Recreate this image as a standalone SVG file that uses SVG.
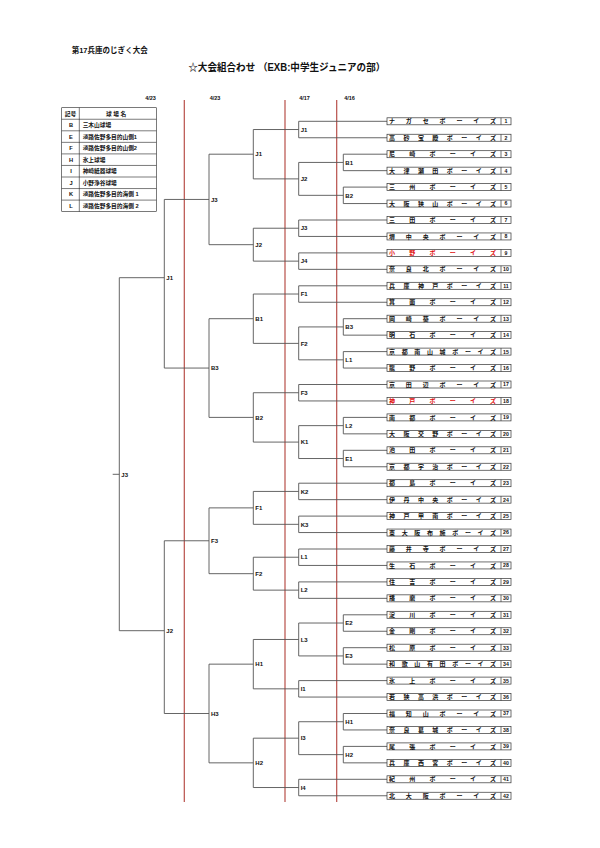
<svg xmlns="http://www.w3.org/2000/svg" width="600" height="848" viewBox="0 0 600 848">
<style>
text{font-family:"Liberation Sans","Noto Sans CJK JP",sans-serif;font-weight:bold;fill:#111}
.ln{stroke:#555;stroke-width:0.9;fill:none}
.rl{stroke:#b8504a;stroke-width:1.2;fill:none}
.bx{fill:#fff;stroke:#333;stroke-width:0.7}
.dv{stroke:#333;stroke-width:0.7}
.tn{font-size:6px}
.red{fill:#e01010}
.no{font-size:5.2px;text-anchor:middle}
.lb{font-size:6px}
.dt{font-size:5.5px;text-anchor:middle}
.tb{fill:none;stroke:#222;stroke-width:0.6}
.tt{font-size:5.7px}
</style>
<rect width="600" height="848" fill="#fff"/>
<g id="titles">
<text x="71.7" y="52.7" font-size="7.5">第17兵庫のじぎく大会</text>
<text x="188.3" y="70.5" font-size="10" textLength="197" lengthAdjust="spacingAndGlyphs">☆大会組合わせ （EXB:中学生ジュニアの部）</text>
</g>
<g id="dates">
<text class="dt" x="150.5" y="100">4/23</text>
<text class="dt" x="215" y="100">4/23</text>
<text class="dt" x="304.5" y="100">4/17</text>
<text class="dt" x="349.5" y="100">4/16</text>
</g>
<g id="legend">
<rect class="tb" x="61.7" y="107.7" width="94.6" height="103.95" stroke-width="0.9"/>
<path class="tb" d="M79.3 107.7V211.65M61.7 119.25H156.3M61.7 130.8H156.3M61.7 142.35H156.3M61.7 153.9H156.3M61.7 165.45H156.3M61.7 177H156.3M61.7 188.55H156.3M61.7 200.1H156.3"/>
<text class="tt" x="70.5" y="115.6" text-anchor="middle">記号</text>
<text class="tt" x="116" y="115.6" text-anchor="middle">球 場 名</text>
<g text-anchor="middle" class="tt">
<text x="71" y="127.1">B</text>
<text x="71" y="138.7">E</text>
<text x="71" y="150.2">F</text>
<text x="71" y="161.8">H</text>
<text x="71" y="173.3">I</text>
<text x="71" y="184.9">J</text>
<text x="71" y="196.4">K</text>
<text x="71" y="208">L</text>
</g>
<text class="tt" x="82.7" y="127.1">三木山球場</text>
<text class="tt" x="82.7" y="138.7">淡路佐野多目的山側1</text>
<text class="tt" x="82.7" y="150.2">淡路佐野多目的山側2</text>
<text class="tt" x="82.7" y="161.8">氷上球場</text>
<text class="tt" x="82.7" y="173.3">神崎紙器球場</text>
<text class="tt" x="82.7" y="184.9">小野浄谷球場</text>
<text class="tt" x="82.7" y="196.4">淡路佐野多目的海側 1</text>
<text class="tt" x="82.7" y="208">淡路佐野多目的海側 2</text>
</g>
<g id="day-lines">
<path class="rl" d="M184.3 100V802M285 100V802M336.7 100V802"/>
</g>
<g id="connectors">
<path class="ln" d="M298.7 121.3H387M298.7 137.75H387M298.7 220H387M298.7 236.45H387M298.7 252.9H387M298.7 269.35H387M298.7 285.8H387M298.7 302.25H387M298.7 384.5H387M298.7 400.95H387M298.7 483.2H387M298.7 499.65H387M298.7 516.1H387M298.7 532.55H387M298.7 549H387M298.7 565.45H387M298.7 581.9H387M298.7 598.35H387M298.7 680.6H387M298.7 697.05H387M298.7 779.3H387M298.7 795.75H387"/>
<path class="ln" d="M343.3 154.2H387M343.3 170.65H387M343.3 187.1H387M343.3 203.55H387M343.3 318.7H387M343.3 335.15H387M343.3 351.6H387M343.3 368.05H387M343.3 417.4H387M343.3 433.85H387M343.3 450.3H387M343.3 466.75H387M343.3 614.8H387M343.3 631.25H387M343.3 647.7H387M343.3 664.15H387M343.3 713.5H387M343.3 729.95H387M343.3 746.4H387M343.3 762.85H387"/>
<path class="ln" d="M343.3 154.2V170.65M343.3 187.1V203.55M343.3 318.7V335.15M343.3 351.6V368.05M343.3 417.4V433.85M343.3 450.3V466.75M343.3 614.8V631.25M343.3 647.7V664.15M343.3 713.5V729.95M343.3 746.4V762.85"/>
<path class="ln" d="M298.7 162.43H343.3M298.7 195.33H343.3M298.7 326.93H343.3M298.7 359.83H343.3M298.7 425.63H343.3M298.7 458.53H343.3M298.7 623.03H343.3M298.7 655.93H343.3M298.7 721.73H343.3M298.7 754.63H343.3"/>
<path class="ln" d="M298.7 121.3V137.75M298.7 162.43V195.33M298.7 220V236.45M298.7 252.9V269.35M298.7 285.8V302.25M298.7 326.93V359.83M298.7 384.5V400.95M298.7 425.63V458.53M298.7 483.2V499.65M298.7 516.1V532.55M298.7 549V565.45M298.7 581.9V598.35M298.7 623.03V655.93M298.7 680.6V697.05M298.7 721.73V754.63M298.7 779.3V795.75"/>
<path class="ln" d="M253.3 129.53H298.7M253.3 178.88H298.7M253.3 228.23H298.7M253.3 261.13H298.7M253.3 294.03H298.7M253.3 343.38H298.7M253.3 392.73H298.7M253.3 442.08H298.7M253.3 491.43H298.7M253.3 524.33H298.7M253.3 557.23H298.7M253.3 590.13H298.7M253.3 639.48H298.7M253.3 688.83H298.7M253.3 738.18H298.7M253.3 787.53H298.7"/>
<path class="ln" d="M253.3 129.53V178.88M253.3 228.23V261.13M253.3 294.03V343.38M253.3 392.73V442.08M253.3 491.43V524.33M253.3 557.23V590.13M253.3 639.48V688.83M253.3 738.18V787.53"/>
<path class="ln" d="M209 154.2H253.3M209 244.68H253.3M209 318.7H253.3M209 417.4H253.3M209 507.88H253.3M209 573.68H253.3M209 664.15H253.3M209 762.85H253.3"/>
<path class="ln" d="M209 154.2V244.68M209 318.7V417.4M209 507.88V573.68M209 664.15V762.85"/>
<path class="ln" d="M164.3 199.44H209M164.3 368.05H209M164.3 540.78H209M164.3 713.5H209"/>
<path class="ln" d="M164.3 199.44V368.05M164.3 540.78V713.5"/>
<path class="ln" d="M119.3 277.7H164.3M119.3 630.7H164.3M119.3 277.7V630.7M112.7 474.3H119.3"/>
</g>
<g id="match-labels" class="lb">
<g id="r1">
<text x="345.3" y="164.6">B1</text>
<text x="345.3" y="197.5">B2</text>
<text x="345.3" y="329.1">B3</text>
<text x="345.3" y="362">L1</text>
<text x="345.3" y="427.8">L2</text>
<text x="345.3" y="460.7">E1</text>
<text x="345.3" y="625.2">E2</text>
<text x="345.3" y="658.1">E3</text>
<text x="345.3" y="723.9">H1</text>
<text x="345.3" y="756.8">H2</text>
</g>
<g id="r2">
<text x="300.7" y="131.7">J1</text>
<text x="300.7" y="181.1">J2</text>
<text x="300.7" y="230.4">J3</text>
<text x="300.7" y="263.3">J4</text>
<text x="300.7" y="296.2">F1</text>
<text x="300.7" y="345.6">F2</text>
<text x="300.7" y="394.9">F3</text>
<text x="300.7" y="444.3">K1</text>
<text x="300.7" y="493.6">K2</text>
<text x="300.7" y="526.5">K3</text>
<text x="300.7" y="559.4">L1</text>
<text x="300.7" y="592.3">L2</text>
<text x="300.7" y="641.7">L3</text>
<text x="300.7" y="691">I1</text>
<text x="300.7" y="740.4">I3</text>
<text x="300.7" y="789.7">I4</text>
</g>
<g id="r3">
<text x="255.3" y="156.4">J1</text>
<text x="255.3" y="246.9">J2</text>
<text x="255.3" y="320.9">B1</text>
<text x="255.3" y="419.6">B2</text>
<text x="255.3" y="510.1">F1</text>
<text x="255.3" y="575.9">F2</text>
<text x="255.3" y="666.4">H1</text>
<text x="255.3" y="765.1">H2</text>
</g>
<g id="r4">
<text x="211" y="201.6">J3</text>
<text x="211" y="370.3">B3</text>
<text x="211" y="543">F3</text>
<text x="211" y="715.7">H3</text>
</g>
<g id="r5">
<text x="166.3" y="279.9">J1</text>
<text x="166.3" y="632.9">J2</text>
</g>
<g id="final">
<text x="121.3" y="476.5">J3</text>
</g>
</g>
<g id="teams">
<g id="team-1"><rect class="bx" x="387" y="117.8" width="124" height="7"/><line class="dv" x1="501" y1="117.8" x2="501" y2="124.8"/><text class="tn" x="389" y="123.4" textLength="107" lengthAdjust="spacing">ナガセボーイズ</text><text class="no" x="506" y="123.2">1</text></g>
<g id="team-2"><rect class="bx" x="387" y="134.25" width="124" height="7"/><line class="dv" x1="501" y1="134.25" x2="501" y2="141.25"/><text class="tn" x="389" y="139.85" textLength="107" lengthAdjust="spacing">高砂宝殿ボーイズ</text><text class="no" x="506" y="139.65">2</text></g>
<g id="team-3"><rect class="bx" x="387" y="150.7" width="124" height="7"/><line class="dv" x1="501" y1="150.7" x2="501" y2="157.7"/><text class="tn" x="389" y="156.3" textLength="107" lengthAdjust="spacing">尼崎ボーイズ</text><text class="no" x="506" y="156.1">3</text></g>
<g id="team-4"><rect class="bx" x="387" y="167.15" width="124" height="7"/><line class="dv" x1="501" y1="167.15" x2="501" y2="174.15"/><text class="tn" x="389" y="172.75" textLength="107" lengthAdjust="spacing">大津瀬田ボーイズ</text><text class="no" x="506" y="172.55">4</text></g>
<g id="team-5"><rect class="bx" x="387" y="183.6" width="124" height="7"/><line class="dv" x1="501" y1="183.6" x2="501" y2="190.6"/><text class="tn" x="389" y="189.2" textLength="107" lengthAdjust="spacing">三州ボーイズ</text><text class="no" x="506" y="189">5</text></g>
<g id="team-6"><rect class="bx" x="387" y="200.05" width="124" height="7"/><line class="dv" x1="501" y1="200.05" x2="501" y2="207.05"/><text class="tn" x="389" y="205.65" textLength="107" lengthAdjust="spacing">大阪狭山ボーイズ</text><text class="no" x="506" y="205.45">6</text></g>
<g id="team-7"><rect class="bx" x="387" y="216.5" width="124" height="7"/><line class="dv" x1="501" y1="216.5" x2="501" y2="223.5"/><text class="tn" x="389" y="222.1" textLength="107" lengthAdjust="spacing">三田ボーイズ</text><text class="no" x="506" y="221.9">7</text></g>
<g id="team-8"><rect class="bx" x="387" y="232.95" width="124" height="7"/><line class="dv" x1="501" y1="232.95" x2="501" y2="239.95"/><text class="tn" x="389" y="238.55" textLength="107" lengthAdjust="spacing">堺中央ボーイズ</text><text class="no" x="506" y="238.35">8</text></g>
<g id="team-9"><rect class="bx" x="387" y="249.4" width="124" height="7"/><line class="dv" x1="501" y1="249.4" x2="501" y2="256.4"/><text class="tn red" x="389" y="255" textLength="107" lengthAdjust="spacing">小野ボーイズ</text><text class="no" x="506" y="254.8">9</text></g>
<g id="team-10"><rect class="bx" x="387" y="265.85" width="124" height="7"/><line class="dv" x1="501" y1="265.85" x2="501" y2="272.85"/><text class="tn" x="389" y="271.45" textLength="107" lengthAdjust="spacing">奈良北ボーイズ</text><text class="no" x="506" y="271.25">10</text></g>
<g id="team-11"><rect class="bx" x="387" y="282.3" width="124" height="7"/><line class="dv" x1="501" y1="282.3" x2="501" y2="289.3"/><text class="tn" x="389" y="287.9" textLength="107" lengthAdjust="spacing">兵庫神戸ボーイズ</text><text class="no" x="506" y="287.7">11</text></g>
<g id="team-12"><rect class="bx" x="387" y="298.75" width="124" height="7"/><line class="dv" x1="501" y1="298.75" x2="501" y2="305.75"/><text class="tn" x="389" y="304.35" textLength="107" lengthAdjust="spacing">箕面ボーイズ</text><text class="no" x="506" y="304.15">12</text></g>
<g id="team-13"><rect class="bx" x="387" y="315.2" width="124" height="7"/><line class="dv" x1="501" y1="315.2" x2="501" y2="322.2"/><text class="tn" x="389" y="320.8" textLength="107" lengthAdjust="spacing">岡崎葵ボーイズ</text><text class="no" x="506" y="320.6">13</text></g>
<g id="team-14"><rect class="bx" x="387" y="331.65" width="124" height="7"/><line class="dv" x1="501" y1="331.65" x2="501" y2="338.65"/><text class="tn" x="389" y="337.25" textLength="107" lengthAdjust="spacing">明石ボーイズ</text><text class="no" x="506" y="337.05">14</text></g>
<g id="team-15"><rect class="bx" x="387" y="348.1" width="124" height="7"/><line class="dv" x1="501" y1="348.1" x2="501" y2="355.1"/><text class="tn" x="389" y="353.7" textLength="107" lengthAdjust="spacing">京都南山城ボーイズ</text><text class="no" x="506" y="353.5">15</text></g>
<g id="team-16"><rect class="bx" x="387" y="364.55" width="124" height="7"/><line class="dv" x1="501" y1="364.55" x2="501" y2="371.55"/><text class="tn" x="389" y="370.15" textLength="107" lengthAdjust="spacing">龍野ボーイズ</text><text class="no" x="506" y="369.95">16</text></g>
<g id="team-17"><rect class="bx" x="387" y="381" width="124" height="7"/><line class="dv" x1="501" y1="381" x2="501" y2="388"/><text class="tn" x="389" y="386.6" textLength="107" lengthAdjust="spacing">京田辺ボーイズ</text><text class="no" x="506" y="386.4">17</text></g>
<g id="team-18"><rect class="bx" x="387" y="397.45" width="124" height="7"/><line class="dv" x1="501" y1="397.45" x2="501" y2="404.45"/><text class="tn red" x="389" y="403.05" textLength="107" lengthAdjust="spacing">神戸ボーイズ</text><text class="no" x="506" y="402.85">18</text></g>
<g id="team-19"><rect class="bx" x="387" y="413.9" width="124" height="7"/><line class="dv" x1="501" y1="413.9" x2="501" y2="420.9"/><text class="tn" x="389" y="419.5" textLength="107" lengthAdjust="spacing">南都ボーイズ</text><text class="no" x="506" y="419.3">19</text></g>
<g id="team-20"><rect class="bx" x="387" y="430.35" width="124" height="7"/><line class="dv" x1="501" y1="430.35" x2="501" y2="437.35"/><text class="tn" x="389" y="435.95" textLength="107" lengthAdjust="spacing">大阪交野ボーイズ</text><text class="no" x="506" y="435.75">20</text></g>
<g id="team-21"><rect class="bx" x="387" y="446.8" width="124" height="7"/><line class="dv" x1="501" y1="446.8" x2="501" y2="453.8"/><text class="tn" x="389" y="452.4" textLength="107" lengthAdjust="spacing">池田ボーイズ</text><text class="no" x="506" y="452.2">21</text></g>
<g id="team-22"><rect class="bx" x="387" y="463.25" width="124" height="7"/><line class="dv" x1="501" y1="463.25" x2="501" y2="470.25"/><text class="tn" x="389" y="468.85" textLength="107" lengthAdjust="spacing">京都宇治ボーイズ</text><text class="no" x="506" y="468.65">22</text></g>
<g id="team-23"><rect class="bx" x="387" y="479.7" width="124" height="7"/><line class="dv" x1="501" y1="479.7" x2="501" y2="486.7"/><text class="tn" x="389" y="485.3" textLength="107" lengthAdjust="spacing">都島ボーイズ</text><text class="no" x="506" y="485.1">23</text></g>
<g id="team-24"><rect class="bx" x="387" y="496.15" width="124" height="7"/><line class="dv" x1="501" y1="496.15" x2="501" y2="503.15"/><text class="tn" x="389" y="501.75" textLength="107" lengthAdjust="spacing">伊丹中央ボーイズ</text><text class="no" x="506" y="501.55">24</text></g>
<g id="team-25"><rect class="bx" x="387" y="512.6" width="124" height="7"/><line class="dv" x1="501" y1="512.6" x2="501" y2="519.6"/><text class="tn" x="389" y="518.2" textLength="107" lengthAdjust="spacing">神戸甲南ボーイズ</text><text class="no" x="506" y="518">25</text></g>
<g id="team-26"><rect class="bx" x="387" y="529.05" width="124" height="7"/><line class="dv" x1="501" y1="529.05" x2="501" y2="536.05"/><text class="tn" x="389" y="534.65" textLength="107" lengthAdjust="spacing">東大阪布施ボーイズ</text><text class="no" x="506" y="534.45">26</text></g>
<g id="team-27"><rect class="bx" x="387" y="545.5" width="124" height="7"/><line class="dv" x1="501" y1="545.5" x2="501" y2="552.5"/><text class="tn" x="389" y="551.1" textLength="107" lengthAdjust="spacing">藤井寺ボーイズ</text><text class="no" x="506" y="550.9">27</text></g>
<g id="team-28"><rect class="bx" x="387" y="561.95" width="124" height="7"/><line class="dv" x1="501" y1="561.95" x2="501" y2="568.95"/><text class="tn" x="389" y="567.55" textLength="107" lengthAdjust="spacing">生石ボーイズ</text><text class="no" x="506" y="567.35">28</text></g>
<g id="team-29"><rect class="bx" x="387" y="578.4" width="124" height="7"/><line class="dv" x1="501" y1="578.4" x2="501" y2="585.4"/><text class="tn" x="389" y="584" textLength="107" lengthAdjust="spacing">住吉ボーイズ</text><text class="no" x="506" y="583.8">29</text></g>
<g id="team-30"><rect class="bx" x="387" y="594.85" width="124" height="7"/><line class="dv" x1="501" y1="594.85" x2="501" y2="601.85"/><text class="tn" x="389" y="600.45" textLength="107" lengthAdjust="spacing">播磨ボーイズ</text><text class="no" x="506" y="600.25">30</text></g>
<g id="team-31"><rect class="bx" x="387" y="611.3" width="124" height="7"/><line class="dv" x1="501" y1="611.3" x2="501" y2="618.3"/><text class="tn" x="389" y="616.9" textLength="107" lengthAdjust="spacing">淀川ボーイズ</text><text class="no" x="506" y="616.7">31</text></g>
<g id="team-32"><rect class="bx" x="387" y="627.75" width="124" height="7"/><line class="dv" x1="501" y1="627.75" x2="501" y2="634.75"/><text class="tn" x="389" y="633.35" textLength="107" lengthAdjust="spacing">金剛ボーイズ</text><text class="no" x="506" y="633.15">32</text></g>
<g id="team-33"><rect class="bx" x="387" y="644.2" width="124" height="7"/><line class="dv" x1="501" y1="644.2" x2="501" y2="651.2"/><text class="tn" x="389" y="649.8" textLength="107" lengthAdjust="spacing">松原ボーイズ</text><text class="no" x="506" y="649.6">33</text></g>
<g id="team-34"><rect class="bx" x="387" y="660.65" width="124" height="7"/><line class="dv" x1="501" y1="660.65" x2="501" y2="667.65"/><text class="tn" x="389" y="666.25" textLength="107" lengthAdjust="spacing">和歌山有田ボーイズ</text><text class="no" x="506" y="666.05">34</text></g>
<g id="team-35"><rect class="bx" x="387" y="677.1" width="124" height="7"/><line class="dv" x1="501" y1="677.1" x2="501" y2="684.1"/><text class="tn" x="389" y="682.7" textLength="107" lengthAdjust="spacing">氷上ボーイズ</text><text class="no" x="506" y="682.5">35</text></g>
<g id="team-36"><rect class="bx" x="387" y="693.55" width="124" height="7"/><line class="dv" x1="501" y1="693.55" x2="501" y2="700.55"/><text class="tn" x="389" y="699.15" textLength="107" lengthAdjust="spacing">若狭高浜ボーイズ</text><text class="no" x="506" y="698.95">36</text></g>
<g id="team-37"><rect class="bx" x="387" y="710" width="124" height="7"/><line class="dv" x1="501" y1="710" x2="501" y2="717"/><text class="tn" x="389" y="715.6" textLength="107" lengthAdjust="spacing">福知山ボーイズ</text><text class="no" x="506" y="715.4">37</text></g>
<g id="team-38"><rect class="bx" x="387" y="726.45" width="124" height="7"/><line class="dv" x1="501" y1="726.45" x2="501" y2="733.45"/><text class="tn" x="389" y="732.05" textLength="107" lengthAdjust="spacing">奈良葛城ボーイズ</text><text class="no" x="506" y="731.85">38</text></g>
<g id="team-39"><rect class="bx" x="387" y="742.9" width="124" height="7"/><line class="dv" x1="501" y1="742.9" x2="501" y2="749.9"/><text class="tn" x="389" y="748.5" textLength="107" lengthAdjust="spacing">尾張ボーイズ</text><text class="no" x="506" y="748.3">39</text></g>
<g id="team-40"><rect class="bx" x="387" y="759.35" width="124" height="7"/><line class="dv" x1="501" y1="759.35" x2="501" y2="766.35"/><text class="tn" x="389" y="764.95" textLength="107" lengthAdjust="spacing">兵庫西宮ボーイズ</text><text class="no" x="506" y="764.75">40</text></g>
<g id="team-41"><rect class="bx" x="387" y="775.8" width="124" height="7"/><line class="dv" x1="501" y1="775.8" x2="501" y2="782.8"/><text class="tn" x="389" y="781.4" textLength="107" lengthAdjust="spacing">紀州ボーイズ</text><text class="no" x="506" y="781.2">41</text></g>
<g id="team-42"><rect class="bx" x="387" y="792.25" width="124" height="7"/><line class="dv" x1="501" y1="792.25" x2="501" y2="799.25"/><text class="tn" x="389" y="797.85" textLength="107" lengthAdjust="spacing">北大阪ボーイズ</text><text class="no" x="506" y="797.65">42</text></g>
</g>
</svg>
